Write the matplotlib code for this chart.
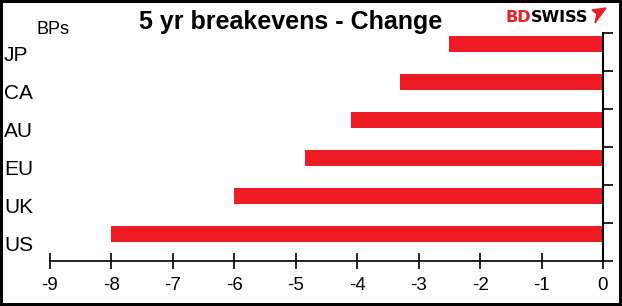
import numpy as np
import matplotlib.pyplot as plt
from matplotlib.patches import Polygon

plt.rcParams['font.family'] = ['Liberation Sans', 'DejaVu Sans']

countries = ['JP', 'CA', 'AU', 'EU', 'UK', 'US']
change = [-2.5, -3.3, -4.1, -4.85, -6.0, -8.0]
xticks = list(range(-9, 1))

W, H = 622, 306
fig = plt.figure(figsize=(W / 100, H / 100), dpi=100)
fig.patch.set_edgecolor('black')
fig.patch.set_linewidth(3)
ax = fig.add_axes([50 / W, 1 - 261 / H, 553 / W, 228 / H])

pos = np.arange(len(countries))
# excel puts the bars a bit above the category centre
ax.barh(pos - 0.21, change, height=0.42, color='#ED1C24')

ax.set_xlim(-9, 0)
ax.set_ylim(len(countries) - 0.5, -0.5)
ax.set_xticks(xticks)
ax.set_xticklabels([str(t) for t in xticks], fontsize=13.5)
ax.tick_params(axis='x', direction='inout', length=11, width=1.2, pad=6)

ax.set_yticks(pos)
ax.set_yticklabels([])
ax.tick_params(axis='y', which='major', length=0)
ax.set_yticks(np.arange(len(countries) + 1) - 0.5, minor=True)
ax.tick_params(axis='y', which='minor', left=False, right=True,
               direction='out', length=7, width=1.2)

for y, c in zip(pos, countries):
    ax.text(-46 / 553, y + 0.08, c, transform=ax.get_yaxis_transform(),
            ha='left', va='center', fontsize=15)

for s in ['top', 'left']:
    ax.spines[s].set_visible(False)
ax.spines['bottom'].set_linewidth(1.2)
ax.spines['right'].set_linewidth(1.5)

fig.text(291 / W, 1 - 22 / H, '5 yr breakevens - Change', ha='center',
         va='center', fontsize=18, fontweight='bold')
fig.text(36 / W, 1 - 30 / H, 'BPs', ha='left', va='center', fontsize=13)

# logo
fig.text(531 / W, 1 - 17 / H, 'BD', ha='right', va='center', fontsize=11.5,
         fontweight='bold', color='#ED1C24', family='DejaVu Sans')
fig.text(531 / W, 1 - 17 / H, 'SWISS', ha='left', va='center', fontsize=11.5,
         fontweight='bold', color='black', family='DejaVu Sans')
icon = Polygon([[592 / W, 1 - 10 / H], [606 / W, 1 - 8 / H],
                [595 / W, 1 - 23 / H], [597 / W, 1 - 14 / H]],
               closed=True, transform=fig.transFigure, color='#ED1C24')
fig.patches.append(icon)

fig.savefig('out.png', dpi=100, edgecolor=fig.get_edgecolor())
